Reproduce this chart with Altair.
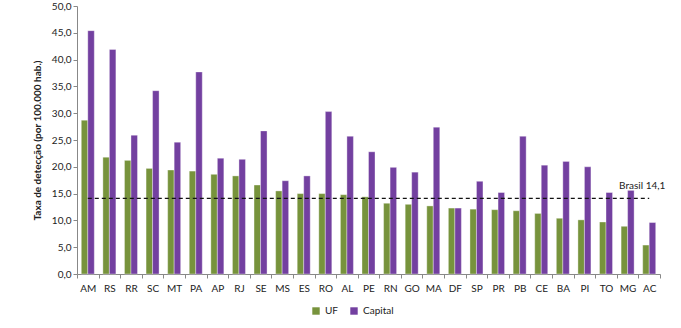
import altair as alt
import pandas as pd

ufs = ["AM","RS","RR","SC","MT","PA","AP","RJ","SE","MS","ES","RO","AL","PE","RN","GO","MA","DF","SP","PR","PB","CE","BA","PI","TO","MG","AC"]
uf_vals = [28.7,21.8,21.2,19.7,19.4,19.2,18.6,18.3,16.6,15.5,15.0,15.0,14.8,14.4,13.2,13.0,12.7,12.3,12.1,12.0,11.8,11.3,10.4,10.1,9.7,8.9,5.4]
cap_vals = [45.4,41.9,25.9,34.2,24.6,37.7,21.6,21.4,26.7,17.4,18.3,30.3,25.7,22.8,19.9,19.0,27.4,12.3,17.3,15.2,25.7,20.3,21.0,20.0,15.2,15.6,9.6]
series = ["UF", "Capital"]
colors = ["#77933C", "#7340A0"]
brasil = 14.1
brasil_label = "Brasil 14,1"
y_title = "Taxa de detecção (por 100.000 hab.)"
y_ticks = [0, 5, 10, 15, 20, 25, 30, 35, 40, 45, 50]

rows = []
for i, u in enumerate(ufs):
    rows.append({"uf": u, "serie": "UF", "valor": uf_vals[i]})
    rows.append({"uf": u, "serie": "Capital", "valor": cap_vals[i]})
df = pd.DataFrame(rows)

FONT = "Lato"

xscale = alt.Scale(domain=ufs, paddingInner=0, paddingOuter=0)
yscale = alt.Scale(domain=[0, 50], nice=False)
x_axis = alt.Axis(labelAngle=0, tickBand="extent", domainColor="#888888",
                  tickColor="#888888", tickSize=4, labelFontSize=10,
                  labelColor="#222222", labelFont=FONT, labelPadding=5, grid=False)
y_axis = alt.Axis(values=y_ticks, grid=False, labelOverlap=False,
                  labelExpr="replace(format(datum.value, '.1f'), '.', ',')",
                  domainColor="#888888", tickColor="#888888", tickSize=4,
                  labelFontSize=10, labelColor="#222222", labelFont=FONT,
                  titleFont=FONT, titleFontSize=10, titleFontWeight="bold",
                  titleColor="#222222", titlePadding=9)

bars = alt.Chart(df).mark_bar(stroke="#ffffff", strokeWidth=0.6, strokeOpacity=0.6).encode(
    x=alt.X("uf:N", scale=xscale, sort=ufs, title=None, axis=x_axis),
    xOffset=alt.XOffset("serie:N", sort=series,
                        scale=alt.Scale(domain=series, paddingOuter=0.66, paddingInner=0)),
    y=alt.Y("valor:Q", scale=yscale, title=y_title, axis=y_axis),
    color=alt.Color("serie:N", scale=alt.Scale(domain=series, range=colors),
                    legend=alt.Legend(title=None, orient="none", legendX=234, legendY=300,
                                      direction="horizontal",
                                      symbolType="square", symbolSize=55,
                                      symbolStrokeWidth=0, labelFont=FONT,
                                      labelFontSize=10, labelColor="#222222",
                                      columnPadding=10, labelOffset=4)),
)

ref_df = pd.DataFrame({"x1": [ufs[0]], "x2": [ufs[-1]], "y": [brasil], "label": [brasil_label]})

rule = alt.Chart(ref_df).mark_rule(color="#111111", strokeDash=[4, 3], strokeWidth=1.3).encode(
    x=alt.X("x1:N", scale=xscale, sort=ufs, title=None, axis=x_axis),
    x2="x2:N",
    y=alt.Y("y:Q", scale=yscale, title=y_title, axis=y_axis),
)

text = alt.Chart(ref_df).mark_text(font=FONT, fontSize=10, color="#222222",
                                   align="center", dx=-7, dy=-12).encode(
    x=alt.X("x2:N", scale=xscale, sort=ufs, title=None, axis=x_axis),
    y=alt.Y("y:Q", scale=yscale, title=y_title, axis=y_axis),
    text="label:N",
)

chart = alt.layer(bars, rule, text).properties(
    width=583, height=268,
    background="white",
    autosize=alt.AutoSizeParams(type="none"),
    padding={"left": 77, "top": 6, "right": 21, "bottom": 54},
    view=alt.ViewBackground(strokeOpacity=0, strokeWidth=0),
).configure_view(stroke="transparent", strokeWidth=0, strokeOpacity=0).configure_axis(grid=False)

chart.save("out.html", embed_options={"renderer": "svg", "actions": False})
